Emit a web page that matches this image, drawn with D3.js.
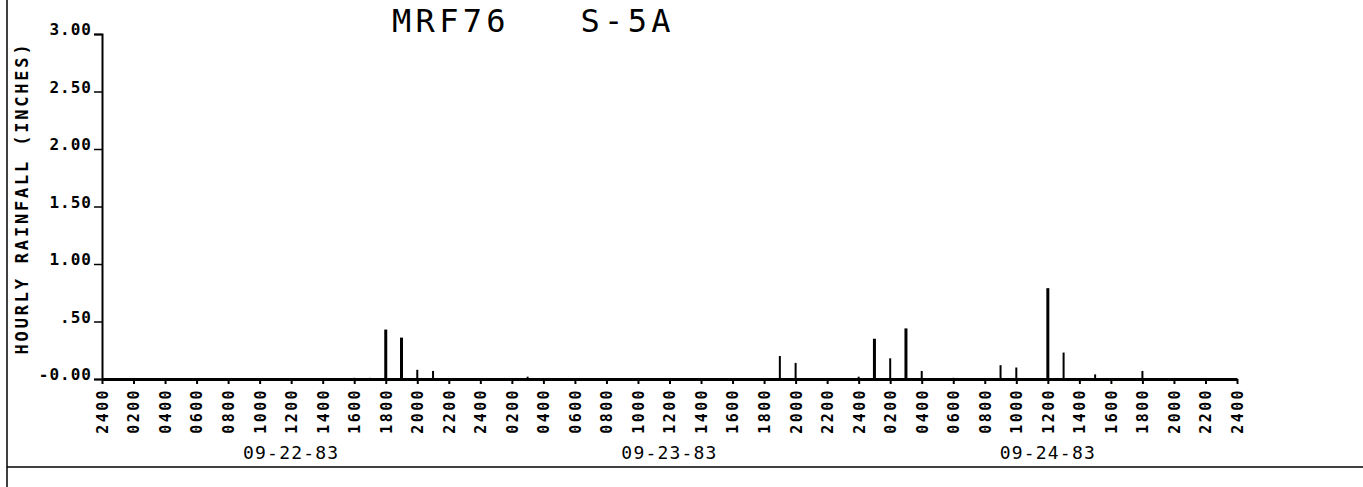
<!DOCTYPE html>
<html>
<head>
<meta charset="utf-8">
<script src="https://cdn.jsdelivr.net/npm/d3@7"></script>
<style>
  body { margin: 0; background: #fff; }
  text { font-family: "DejaVu Sans Mono", monospace; fill: #000; }
</style>
</head>
<body>
<svg id="chart"></svg>
<script>
// station / title
var title = "MRF76   S-5A";
var yTitle = "HOURLY RAINFALL (INCHES)";

// one date per plotted day
var dates = ["09-22-83", "09-23-83", "09-24-83"];
// two-hour tick labels inside a day
var hourLabels = ["2400", "0200", "0400", "0600", "0800", "1000",
                  "1200", "1400", "1600", "1800", "2000", "2200"];

// hours (counted from 2400 of 09-21) with rain, and inches per hour
var rainHours  = [16, 17, 18, 19, 20, 21, 27, 43, 44, 48, 49, 50, 51, 52, 54, 57, 58, 60, 61, 63, 66];
var rainInches = [0.01, 0.01, 0.43, 0.36, 0.08, 0.07, 0.02, 0.20, 0.14, 0.02, 0.35, 0.18, 0.44, 0.07, 0.01, 0.12, 0.10, 0.79, 0.23, 0.04, 0.07];

// y axis
var yTicks = [0, 0.5, 1, 1.5, 2, 2.5, 3];
var yTickLabels = ["-0.00", ".50", "1.00", "1.50", "2.00", "2.50", "3.00"];

var W = 1363, H = 487;
var svg = d3.select("#chart").attr("width", W).attr("height", H);

var nHours = dates.length * 24;
var x = d3.scaleLinear().domain([0, nHours]).range([102, 1237]);
var y = d3.scaleLinear().domain([0, 3]).range([379, 34]);

// page frame lines
svg.append("line").attr("x1", 7).attr("x2", 7).attr("y1", 0).attr("y2", H)
  .attr("stroke", "#000").attr("stroke-width", 1.5);
svg.append("line").attr("x1", 7).attr("x2", W).attr("y1", 467).attr("y2", 467)
  .attr("stroke", "#000").attr("stroke-width", 1.5);

// title
svg.append("text")
  .attr("x", 392).attr("y", 32)
  .attr("font-size", 32)
  .attr("letter-spacing", 4.3)
  .style("white-space", "pre")
  .text(title);

// y title
svg.append("text")
  .attr("transform", "translate(28,198) rotate(-90)")
  .attr("text-anchor", "middle")
  .attr("font-size", 17)
  .attr("font-weight", "bold")
  .attr("letter-spacing", 2.8)
  .style("white-space", "pre")
  .text(yTitle);

// y axis
var yAxis = d3.axisLeft(y)
  .tickValues(yTicks)
  .tickSize(8)
  .tickPadding(2)
  .tickFormat(function(d, i) { return yTickLabels[i]; });

var gy = svg.append("g").attr("transform", "translate(" + x(0) + ",0)").call(yAxis);
gy.select(".domain").attr("stroke-width", 2);
gy.selectAll(".tick line").attr("stroke-width", 1.5);
gy.selectAll(".tick text")
  .attr("font-size", 16)
  .attr("font-weight", "bold")
  .attr("letter-spacing", 1)
  .attr("dy", "0.05em")
  .attr("font-family", "DejaVu Sans Mono");

// x axis: a tick every two hours
var tickHours = d3.range(0, nHours + 1, 2);
var xAxis = d3.axisBottom(x)
  .tickValues(tickHours)
  .tickSize(5)
  .tickSizeOuter(0)
  .tickFormat(function(d) {
    if (d === nHours) return hourLabels[0];
    return hourLabels[(d % 24) / 2];
  });

var gx = svg.append("g").attr("transform", "translate(0," + y(0) + ")").call(xAxis);
gx.select(".domain").attr("stroke-width", 3);
gx.selectAll(".tick line").attr("stroke-width", 2);
gx.selectAll(".tick text")
  .attr("font-size", 15)
  .attr("font-weight", "bold")
  .attr("letter-spacing", 2.4)
  .attr("font-family", "DejaVu Sans Mono")
  .attr("text-anchor", "end")
  .attr("transform", "rotate(-90)")
  .attr("x", -9)
  .attr("y", 0)
  .attr("dy", "0.36em");

// date labels, centred under each day
svg.selectAll("text.date")
  .data(dates)
  .enter()
  .append("text")
  .attr("class", "date")
  .attr("x", function(d, i) { return x(i * 24 + 12); })
  .attr("y", 459)
  .attr("text-anchor", "middle")
  .attr("font-size", 18)
  .attr("letter-spacing", 1.2)
  .text(function(d) { return d; });

// hourly rainfall bars
var rain = rainHours.map(function(h, i) { return { h: h, v: rainInches[i] }; });
svg.selectAll("line.bar")
  .data(rain)
  .enter()
  .append("line")
  .attr("class", "bar")
  .attr("x1", function(d) { return x(d.h); })
  .attr("x2", function(d) { return x(d.h); })
  .attr("y1", y(0))
  .attr("y2", function(d) { return y(d.v); })
  .attr("stroke", "#000")
  .attr("stroke-width", function(d) { return d.v > 0.3 ? 3 : 2; });
</script>
</body>
</html>
